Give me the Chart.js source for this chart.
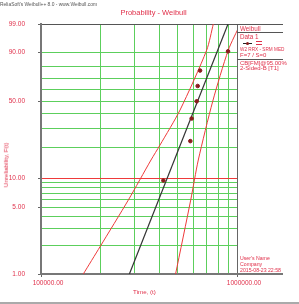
<!DOCTYPE html>
<html><head><meta charset="utf-8">
<script src="https://cdn.jsdelivr.net/npm/chart.js@4.4.1/dist/chart.umd.min.js"></script>
<style>
html,body{margin:0;padding:0;background:#fff;}
#wrap{position:relative;width:299px;height:304px;overflow:hidden;font-family:"Liberation Sans",Arial,sans-serif;}
canvas{position:absolute;left:0;top:0;}
.t{position:absolute;white-space:nowrap;line-height:1;color:#e0304a;transform:translateY(-50%);}
.ln{position:absolute;}
</style></head><body>
<div id="wrap">
<canvas id="c" width="299" height="304"></canvas>
<div class="t" style="left:0;top:5px;font-size:4.9px;color:#555">ReliaSoft's Weibull++ 8.0 - www.Weibull.com</div>
<div class="t" style="left:153.5px;top:12.5px;font-size:7.5px;transform:translate(-50%,-50%)">Probability - Weibull</div>
<div class="t" style="left:6px;top:165px;font-size:6.2px;transform:translate(-50%,-50%) rotate(-90deg)">Unreliability, F(t)</div>
<div class="t" style="left:144.5px;top:292px;font-size:6.2px;transform:translate(-50%,-50%)">Time, (t)</div>

<div class="ln" style="left:237px;top:24px;width:46px;height:1px;background:#555"></div>
<div class="ln" style="left:237px;top:32px;width:46px;height:1px;background:#555"></div>
<div class="ln" style="left:237px;top:59px;width:46px;height:1px;background:#555"></div>
<div class="ln" style="left:237px;top:273px;width:46px;height:2px;background:#777"></div>
<div class="ln" style="left:0;top:301.5px;width:299px;height:2px;background:#aaa"></div>

<div class="t" style="left:240px;top:28.5px;font-size:6.3px">Weibull</div>
<div class="t" style="left:240px;top:36.5px;font-size:6.3px">Data 1</div>
<div class="ln" style="left:243px;top:43px;width:9px;height:1px;background:#222"></div>
<div class="ln" style="left:246px;top:42px;width:3px;height:3px;border-radius:50%;background:#8a1c1c"></div>
<div class="ln" style="left:256px;top:41px;width:6px;height:1px;background:#e0304a"></div>
<div class="ln" style="left:256px;top:43.5px;width:6px;height:1px;background:#e0304a"></div>
<div class="t" style="left:240px;top:49.3px;font-size:6px;transform:translateY(-50%) scaleX(0.78);transform-origin:left center">W2 RRX - SRM MED</div>
<div class="t" style="left:240px;top:55px;font-size:6px">F=7 / S=0</div>
<div class="t" style="left:240px;top:62.7px;font-size:6px">CB[FM]@95.00%</div>
<div class="t" style="left:240px;top:68.3px;font-size:6px">2-Sided-B [T1]</div>

<div class="t" style="left:240px;top:259px;font-size:5.2px">User's Name</div>
<div class="t" style="left:240px;top:264.5px;font-size:5.2px">Company</div>
<div class="t" style="left:240px;top:270.5px;font-size:5.2px">2015-08-23 22:58</div>
</div>
<script>
// Failure data (time, median-rank unreliability %)
const failureTimes = [421000, 578000, 587000, 623000, 630000, 648000, 900000];
const unreliabilityPct = [9.46, 22.97, 36.49, 50.00, 63.51, 77.03, 90.54];
// Fitted Weibull line
const fitTimes = [282500, 900000];
const fitPct = [1, 99];
// Confidence bounds
const lowerTimes = [164400, 200000, 278900, 364100, 404700, 512000, 700500, 757000];
const lowerPct = [1, 1.94, 5.97, 15.15, 21.1, 42.8, 91.2, 99];
const upperTimes = [486000, 580500, 634600, 752000, 902800, 1040000];
const upperPct = [1, 5.97, 15.15, 50, 91.2, 99];
// Axes
const xGrid = [100000, 200000, 300000, 400000, 500000, 600000, 700000, 800000, 900000, 1000000];
const xLabeled = [100000, 1000000];
const yGridPct = [1, 2, 3, 4, 5, 6, 7, 8, 9, 10, 20, 30, 40, 50, 60, 70, 80, 90, 99];
const yLabeled = [1, 5, 10, 50, 90, 99];

const W = p => Math.log(-Math.log(1 - p / 100));
const pts = (ts, ps) => ts.map((t, i) => ({x: t, y: W(ps[i])}));

const RED = '#e0304a', GREEN = '#5ccf5c', GREY = '#666';

new Chart(document.getElementById('c'), {
  type: 'scatter',
  data: {datasets: [
    {data: pts(failureTimes, unreliabilityPct), pointRadius: 1.8, pointBackgroundColor: '#8a1c1c', pointBorderColor: '#8a1c1c', showLine: false},
    {data: pts(fitTimes, fitPct), showLine: true, borderColor: '#333', borderWidth: 1.2, pointRadius: 0, clip: 0},
    {data: pts(lowerTimes, lowerPct), showLine: true, borderColor: '#ee3a3a', borderWidth: 1, pointRadius: 0, tension: 0.25, clip: 0},
    {data: pts(upperTimes, upperPct), showLine: true, borderColor: '#ee3a3a', borderWidth: 1, pointRadius: 0, tension: 0.25, clip: 0}
  ]},
  options: {
    responsive: false, animation: false,
    layout: {padding: {left: 0, right: 62, top: 24, bottom: 0}},
    plugins: {legend: {display: false}, tooltip: {enabled: false}, title: {display: false}},
    scales: {
      x: {
        type: 'logarithmic', min: 100000, max: 1000000, bounds: 'data',
        afterBuildTicks: s => { s.ticks = xGrid.map(v => ({value: v})); },
        afterFit: s => { s.height = 30; },
        ticks: {autoSkip: false, maxRotation: 0, color: RED, padding: 2, labelOffset: 7,
          font: {size: 6.5, family: 'Liberation Sans'},
          callback: v => xLabeled.includes(v) ? v.toFixed(2) : ''},
        grid: {lineWidth: 1, tickLength: 3,
          color: c => (c.tick && c.tick.value === 1000000) ? GREY : GREEN,
          tickColor: c => (c.tick && xLabeled.includes(c.tick.value)) ? GREY : 'rgba(0,0,0,0)'},
        border: {color: '#777', width: 2}
      },
      y: {
        type: 'linear', min: W(1), max: W(99), bounds: 'data',
        afterBuildTicks: s => { s.ticks = yGridPct.map(p => ({value: W(p)})); },
        afterFit: s => { s.width = 41; },
        ticks: {autoSkip: false, color: RED, padding: 13,
          font: {size: 6.5, family: 'Liberation Sans'},
          callback: (v, i) => yLabeled.includes(yGridPct[i]) ? yGridPct[i].toFixed(2) : ''},
        grid: {lineWidth: 1, tickLength: 3,
          color: c => { const p = yGridPct[c.index]; return p === 10 ? '#ee3a3a' : (p === 99 ? '#555' : GREEN); },
          tickColor: c => yLabeled.includes(yGridPct[c.index]) ? GREY : 'rgba(0,0,0,0)'},
        border: {color: '#777', width: 2}
      }
    }
  }
});
</script>
</body></html>
